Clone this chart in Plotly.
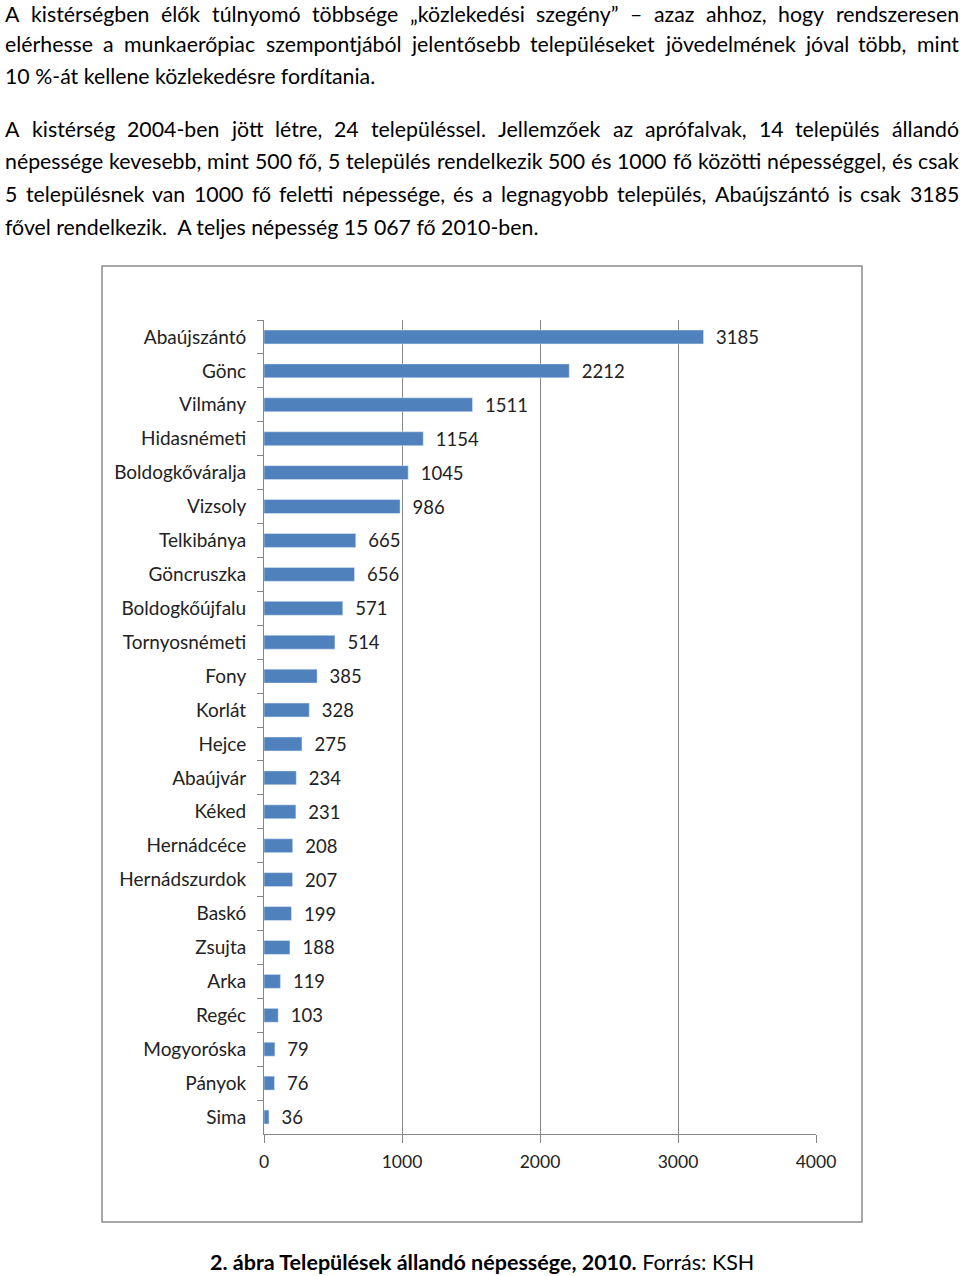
import subprocess
import plotly.graph_objects as go

# settlements, top to bottom, and their population in 2010
towns = ["Abaújszántó", "Gönc", "Vilmány", "Hidasnémeti", "Boldogkőváralja", "Vizsoly",
         "Telkibánya", "Göncruszka", "Boldogkőújfalu", "Tornyosnémeti", "Fony", "Korlát",
         "Hejce", "Abaújvár", "Kéked", "Hernádcéce", "Hernádszurdok", "Baskó", "Zsujta",
         "Arka", "Regéc", "Mogyoróska", "Pányok", "Sima"]
population = [3185, 2212, 1511, 1154, 1045, 986, 665, 656, 571, 514, 385, 328,
              275, 234, 231, 208, 207, 199, 188, 119, 103, 79, 76, 36]
x_ticks = [0, 1000, 2000, 3000, 4000]

body_lines = [
    "A kistérségben élők túlnyomó többsége „közlekedési szegény” – azaz ahhoz, hogy rendszeresen",
    "elérhesse a munkaerőpiac szempontjából jelentősebb településeket jövedelmének jóval több, mint",
    "10 %-át kellene közlekedésre fordítania.",
    "A kistérség 2004-ben jött létre, 24 településsel. Jellemzőek az aprófalvak, 14 település állandó",
    "népessége kevesebb, mint 500 fő, 5 település rendelkezik 500 és 1000 fő közötti népességgel, és csak",
    "5 településnek van 1000 fő feletti népessége, és a legnagyobb település, Abaújszántó is csak 3185",
    "fővel rendelkezik.  A teljes népesség 15 067 fő 2010-ben.",
]
justified = [True, True, False, True, True, True, False]
line_y = [14, 44, 76, 129, 161, 194, 227]

caption_bold = "2. ábra Települések állandó népessége, 2010."
caption_rest = "Forrás: KSH"

W, H = 960, 1276
PL, PR, PT, PB = 264, 816, 320, 1134
FONT = "Lato"
BODY_SIZE = 21.3
TEXT_L, TEXT_R = 4, 958


def px(x):
    return (x - PL) / (PR - PL)


def py(y):
    return (PB - y) / (PB - PT)


def measurer(family, size):
    try:
        from PIL import ImageFont
        path = subprocess.run(["fc-match", "-f", "%{file}", family],
                              capture_output=True, text=True).stdout.strip()
        f = ImageFont.truetype(path, size)
        return f.getlength
    except Exception:
        return None


fig = go.Figure(go.Bar(
    y=towns, x=population, orientation="h",
    marker_color="#4F81BD", width=0.41,
    texttemplate="\u00a0\u00a0%{x}", textposition="outside",
    textfont=dict(family=FONT, size=18.5, color="#222222"),
    constraintext="none", cliponaxis=False,
))

annotations = []
measure = measurer(FONT, BODY_SIZE)
body_font = dict(family=FONT, size=BODY_SIZE, color="#000000")
for line, just, y in zip(body_lines, justified, line_y):
    words = [w for w in line.split(" ") if w]
    if just and measure is not None:
        widths = [measure(w) for w in words]
        gap = (TEXT_R - TEXT_L - sum(widths)) / (len(words) - 1)
        x = TEXT_L
        for w, wd in zip(words, widths):
            annotations.append(dict(x=px(x), y=py(y), xref="paper", yref="paper",
                                    text=w, showarrow=False, xanchor="left",
                                    yanchor="middle", font=body_font, borderpad=0))
            x += wd + gap
    else:
        annotations.append(dict(x=px(TEXT_L), y=py(y), xref="paper", yref="paper",
                                text=line.replace("  ", "\u00a0 "), showarrow=False,
                                xanchor="left", yanchor="middle", font=body_font,
                                borderpad=0))

annotations.append(dict(x=px(482), y=py(1262), xref="paper", yref="paper",
                        text="<b>" + caption_bold + "</b> " + caption_rest,
                        showarrow=False, xanchor="center", yanchor="middle",
                        font=dict(family=FONT, size=21.5, color="#000000")))

fig.update_layout(
    width=W, height=H, autosize=False,
    margin=dict(l=PL, r=W - PR, t=PT, b=H - PB),
    paper_bgcolor="white", plot_bgcolor="white",
    showlegend=False, bargap=0.59,
    annotations=annotations,
    shapes=[dict(type="rect", xref="paper", yref="paper",
                 x0=px(102), x1=px(862), y0=py(1222), y1=py(266),
                 line=dict(color="#8c8c8c", width=1.5))],
    xaxis=dict(range=[0, 4000], tickvals=x_ticks, showgrid=True,
               gridcolor="#868686", gridwidth=1, zeroline=False,
               showline=True, linecolor="#868686", linewidth=1,
               ticks="outside", ticklen=8, tickcolor="#868686",
               ticklabelstandoff=4,
               tickfont=dict(family=FONT, size=17.5, color="#222222")),
    yaxis=dict(categoryorder="array", categoryarray=towns, autorange="reversed",
               showgrid=False, showline=True, linecolor="#868686", linewidth=1,
               ticks="outside", tickson="boundaries", ticklen=6,
               tickcolor="#868686", ticklabelstandoff=13,
               tickfont=dict(family=FONT, size=19, color="#222222")),
)

# the page's default body margin would push the figure 8px off
fig.write_html("out.html", config={"displayModeBar": False},
               post_script="document.body.style.margin='0';")
